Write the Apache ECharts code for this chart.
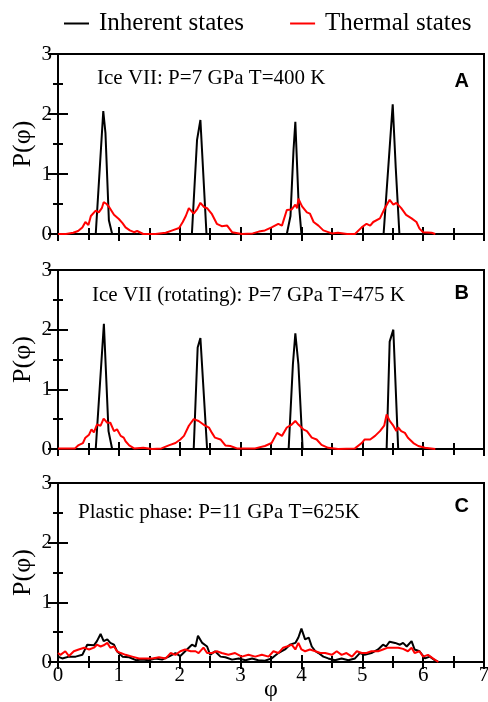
<!DOCTYPE html>
<html><head><meta charset="utf-8">
<script src="https://cdn.jsdelivr.net/npm/echarts@6/dist/echarts.min.js"></script>
<style>html,body{margin:0;padding:0;background:#fff}#c{width:488px;height:702px}</style>
</head><body><div id="c"></div>
<script>
// ---- Data ----
const xTicks = [0,1,2,3,4,5,6,7];
const yTicks = [0,1,2,3];
const seriesNames = ['Inherent states','Thermal states'];
const panelTitles = ['Ice VII: P=7 GPa T=400 K','Ice VII (rotating): P=7 GPa T=475 K','Plastic phase: P=11 GPa T=625K'];
const panelLetters = ['A','B','C'];

// Panel A
const phiA_inh = [0,0.62,0.744,0.78,0.836,0.89,2.2,2.285,2.34,2.44,3.76,3.82,3.87,3.9,3.95,4.0,5.35,5.4,5.45,5.5,5.55,5.61,6.3];
const pA_inh   = [0,0,2.05,1.68,0.23,0,0,1.57,1.9,0,0,0.3,1.4,1.87,0.6,0,0,0.72,1.44,2.16,1.1,0,0];
const phiA_th = [0,0.13,0.25,0.33,0.4,0.45,0.5,0.54,0.62,0.67,0.72,0.75,0.8,0.84,0.92,1.0,1.06,1.11,1.18,1.25,1.3,1.4,1.6,1.77,1.88,1.99,2.05,2.1,2.15,2.23,2.29,2.34,2.4,2.45,2.53,2.61,2.69,2.78,2.86,3.02,3.2,3.3,3.4,3.51,3.62,3.68,3.76,3.84,3.9,3.93,3.95,4.01,4.09,4.14,4.2,4.28,4.36,4.5,4.6,4.75,4.88,4.99,5.07,5.13,5.18,5.29,5.37,5.45,5.51,5.56,5.64,5.72,5.81,5.89,5.94,6.0,6.14,6.2];
const pA_th   = [0,0,0.02,0.05,0.11,0.2,0.15,0.3,0.39,0.36,0.43,0.53,0.5,0.45,0.32,0.25,0.18,0.11,0.06,0.03,0.05,0,0,0.02,0.06,0.1,0.2,0.3,0.43,0.34,0.42,0.52,0.45,0.43,0.33,0.17,0.13,0.14,0.03,0,0.01,0.04,0.06,0.11,0.17,0.14,0.4,0.41,0.49,0.43,0.59,0.46,0.36,0.34,0.2,0.14,0.06,0.01,0.02,0,0,0.11,0.17,0.14,0.2,0.26,0.43,0.57,0.49,0.52,0.43,0.32,0.26,0.2,0.09,0.03,0.02,0];

// Panel B
const phiB_inh = [0,0.62,0.754,0.83,0.89,2.23,2.295,2.34,2.45,3.79,3.86,3.9,3.95,4.02,5.4,5.45,5.51,5.59,6.3];
const pB_inh   = [0,0,2.1,0.3,0,0,1.7,1.86,0,0,1.42,1.94,1.42,0,0,1.8,2.0,0,0];
const phiB_th = [0,0.28,0.33,0.41,0.45,0.51,0.55,0.59,0.64,0.7,0.75,0.81,0.86,0.92,0.97,1.03,1.08,1.11,1.17,1.25,1.4,1.55,1.7,1.82,1.93,2.01,2.07,2.15,2.23,2.31,2.39,2.48,2.53,2.58,2.67,2.75,2.83,2.94,3.24,3.4,3.51,3.6,3.68,3.76,3.84,3.9,3.95,4.03,4.09,4.17,4.25,4.33,4.44,4.6,4.88,4.99,5.04,5.13,5.21,5.29,5.36,5.4,5.45,5.51,5.56,5.59,5.64,5.7,5.75,5.84,5.92,6.03,6.2];
const pB_th   = [0.01,0.01,0.06,0.1,0.19,0.24,0.33,0.28,0.41,0.39,0.51,0.44,0.44,0.3,0.33,0.22,0.19,0.13,0.06,0.01,0.02,0,0.01,0.06,0.1,0.16,0.22,0.39,0.5,0.47,0.41,0.36,0.27,0.19,0.16,0.06,0.05,0.01,0.01,0.05,0.1,0.27,0.22,0.36,0.41,0.47,0.41,0.33,0.3,0.19,0.16,0.07,0.02,0,0.01,0.1,0.16,0.16,0.22,0.3,0.39,0.58,0.47,0.39,0.3,0.36,0.3,0.27,0.19,0.1,0.05,0.02,0];

// Panel C
const phiC_inh = [0,0.07,0.18,0.29,0.4,0.48,0.59,0.64,0.7,0.75,0.81,0.86,0.92,0.97,1.06,1.17,1.28,1.38,1.49,1.6,1.71,1.82,1.93,2.01,2.09,2.2,2.26,2.3,2.37,2.45,2.5,2.58,2.67,2.75,2.86,2.97,3.08,3.19,3.29,3.4,3.51,3.62,3.73,3.81,3.9,3.95,4.0,4.06,4.12,4.17,4.23,4.28,4.36,4.44,4.55,4.66,4.77,4.88,4.96,5.04,5.15,5.26,5.34,5.39,5.45,5.54,5.62,5.67,5.73,5.81,5.86,5.94,6.03,6.11,6.19,6.25];
const pC_inh   = [0.09,0.06,0.09,0.09,0.12,0.29,0.28,0.35,0.47,0.35,0.38,0.32,0.29,0.18,0.09,0.08,0.03,0.04,0.03,0.06,0.04,0.09,0.15,0.1,0.18,0.29,0.26,0.44,0.32,0.26,0.12,0.18,0.09,0.08,0.04,0.06,0.03,0.06,0.03,0.02,0.06,0.15,0.21,0.29,0.32,0.41,0.56,0.38,0.41,0.26,0.18,0.15,0.09,0.06,0.03,0.06,0.03,0.06,0.15,0.12,0.15,0.21,0.29,0.26,0.34,0.32,0.29,0.32,0.26,0.35,0.21,0.18,0.06,0.09,0.03,0];
const phiC_th = [0,0.04,0.12,0.18,0.26,0.34,0.43,0.51,0.59,0.64,0.7,0.75,0.81,0.86,0.92,0.97,1.03,1.11,1.22,1.33,1.44,1.55,1.66,1.77,1.85,1.93,2.01,2.09,2.18,2.26,2.31,2.39,2.45,2.53,2.61,2.69,2.8,2.91,3.02,3.13,3.24,3.35,3.46,3.54,3.62,3.7,3.76,3.84,3.9,3.95,4.0,4.06,4.14,4.23,4.31,4.39,4.5,4.58,4.66,4.74,4.83,4.91,4.99,5.07,5.15,5.26,5.34,5.42,5.51,5.59,5.67,5.75,5.81,5.86,5.94,6.0,6.08,6.16,6.25];
const pC_th   = [0.15,0.12,0.18,0.1,0.18,0.21,0.24,0.21,0.24,0.29,0.26,0.28,0.32,0.24,0.26,0.18,0.15,0.12,0.09,0.06,0.06,0.06,0.08,0.06,0.15,0.12,0.18,0.21,0.18,0.18,0.15,0.24,0.15,0.15,0.18,0.15,0.12,0.15,0.09,0.12,0.09,0.12,0.09,0.18,0.15,0.24,0.26,0.29,0.21,0.32,0.21,0.18,0.21,0.18,0.15,0.15,0.12,0.18,0.12,0.15,0.09,0.18,0.15,0.15,0.18,0.18,0.21,0.24,0.24,0.24,0.22,0.18,0.24,0.15,0.18,0.09,0.12,0.06,0];

const panels = [
  {inh:[phiA_inh,pA_inh], th:[phiA_th,pA_th]},
  {inh:[phiB_inh,pB_inh], th:[phiB_th,pB_th]},
  {inh:[phiC_inh,pC_inh], th:[phiC_th,pC_th]}
];

// ---- Layout / style ----
const SERIF = '"Liberation Serif","DejaVu Serif",serif';
const SANS = '"Liberation Sans",Arial,sans-serif';
const gridTops = [54, 270, 483];
const gridH = [180, 179, 179];
const zip = (a,b) => a.map((v,i)=>[v,b[i]]);

const grids=[], xAxes=[], yAxes=[], series=[], graphics=[];
const titlePos = [{x:97,y:80,lx:469,ly:81},{x:92,y:297,lx:469,ly:293},{x:78,y:514,lx:469,ly:506}];

panels.forEach((p,i)=>{
  grids.push({left:58, width:426, top:gridTops[i], height:gridH[i], containLabel:false, outerBoundsMode:'none',
    show:true, borderColor:'#000', borderWidth:2, backgroundColor:'transparent'});
  const isLast = i===2;
  const xCommon = {type:'value', gridIndex:i, min:0, max:7, interval:1,
    axisLine:{show:false}, splitLine:{show:false},
    axisTick:{show:true, inside:true, length:7, lineStyle:{color:'#000', width:2}},
    minorTick:{show:true, splitNumber:2, length:6, lineStyle:{color:'#000', width:2}}};
  xAxes.push(Object.assign({}, xCommon, {position:'bottom',
    axisLabel:{show:isLast, color:'#000', fontFamily:SERIF, fontSize:21, margin:3},
    name:isLast?'φ':'', nameLocation:'middle', nameGap:16, nameMoveOverlap:false,
    nameTextStyle:{color:'#000', fontFamily:SERIF, fontSize:24}}));
  xAxes.push(Object.assign({}, xCommon, {position:'top', axisLabel:{show:false}}));
  const yCommon = {type:'value', gridIndex:i, min:0, max:3, interval:1,
    axisLine:{show:false}, splitLine:{show:false},
    axisTick:{show:true, inside:true, length:10, lineStyle:{color:'#000', width:2}},
    minorTick:{show:true, splitNumber:2, length:5, lineStyle:{color:'#000', width:2}}};
  yAxes.push(Object.assign({}, yCommon, {position:'left',
    axisLabel:{color:'#000', fontFamily:SERIF, fontSize:21, margin:6},
    name:'P(φ)', nameLocation:'middle', nameGap:22, nameRotate:90, nameMoveOverlap:false,
    nameTextStyle:{color:'#000', fontFamily:SERIF, fontSize:26}}));
  yAxes.push(Object.assign({}, yCommon, {position:'right', axisLabel:{show:false}}));
  series.push({name:seriesNames[0], type:'line', xAxisIndex:2*i, yAxisIndex:2*i,
    data:zip(p.inh[0],p.inh[1]), symbol:'none', lineStyle:{color:'#000', width:2}, itemStyle:{color:'#000'}, z:3});
  series.push({name:seriesNames[1], type:'line', xAxisIndex:2*i, yAxisIndex:2*i,
    data:zip(p.th[0],p.th[1]), symbol:'none', lineStyle:{color:'#ff0000', width:2}, itemStyle:{color:'#ff0000'}, z:4});
  const tp = titlePos[i];
  graphics.push({type:'text', left:tp.x, top:tp.y-12, style:{text:panelTitles[i], fill:'#000', font:'21px '+SERIF}});
  graphics.push({type:'text', x:tp.lx, y:tp.ly, style:{text:panelLetters[i], fill:'#000', font:'bold 20px '+SANS, align:'right', verticalAlign:'middle'}});
});

const chart = echarts.init(document.getElementById('c'), null, {renderer:'canvas'});
chart.setOption({
  animation:false,
  backgroundColor:'#fff',
  legend:{data:seriesNames, left:64, top:11, padding:0, icon:'rect', itemWidth:25, itemHeight:2, itemGap:46,
    textStyle:{color:'#000', fontFamily:SERIF, fontSize:25, padding:[0,0,0,5]}},
  grid:grids, xAxis:xAxes, yAxis:yAxes, series:series, graphic:graphics
});
</script></body></html>
